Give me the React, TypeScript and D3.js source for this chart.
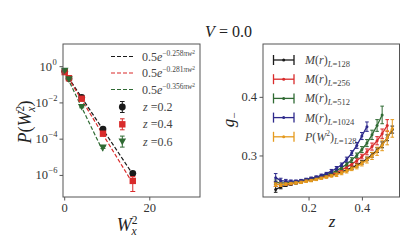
import React from "react";
import * as d3 from "d3";

// ---- left panel: P(W_x^2) ----
const w2 = [0, 1, 4, 9, 16];
const pZ02 = [0.55, 0.22, 0.02, 3.6e-4, 1.3e-6];
const pZ02Err = [0.03, 0.01, 0.002, 4e-5, 3e-7];
const pZ04 = [0.5, 0.23, 0.017, 2.0e-4, 5e-7];
const pZ04Err = [0.03, 0.01, 0.002, 3e-5, 3.7e-7];
const pZ06 = [0.6, 0.2, 6.0e-3, 3.5e-5];
const pZ06Err = [0.03, 0.01, 6e-4, 4e-6];
const zLabels = ["0.2", "0.4", "0.6"];
const fitRates = ["0.258", "0.281", "0.356"];
const fitEnds = [16, 16, 9];
const fitAmp = 0.5;

// ---- right panel: g_- vs z ----
const zGrid = [
  0.075, 0.094, 0.113, 0.132, 0.151, 0.17, 0.189, 0.208, 0.227, 0.246, 0.265, 0.284,
  0.303, 0.322, 0.341, 0.36, 0.379, 0.398, 0.417, 0.436, 0.455, 0.474, 0.493, 0.512,
];
const g128 = [
  0.243, 0.247, 0.25, 0.252, 0.254, 0.256, 0.258, 0.259, 0.261, 0.263, 0.265, 0.267,
  0.27, 0.273, 0.276, 0.28, 0.284, 0.289, 0.295, 0.302, 0.31, 0.319, 0.331, 0.345,
];
const g128Err = [
  0.005, 0.003, 0.002, 0.002, 0.002, 0.002, 0.002, 0.002, 0.002, 0.002, 0.002, 0.002,
  0.002, 0.002, 0.002, 0.003, 0.003, 0.003, 0.003, 0.004, 0.004, 0.005, 0.005, 0.006,
];
const g256 = [
  0.252, 0.251, 0.252, 0.253, 0.255, 0.256, 0.258, 0.26, 0.262, 0.264, 0.266, 0.269,
  0.272, 0.276, 0.281, 0.286, 0.292, 0.299, 0.307, 0.316, 0.326, 0.338, 0.352,
];
const g256Err = [
  0.004, 0.003, 0.002, 0.002, 0.002, 0.002, 0.002, 0.002, 0.002, 0.002, 0.002, 0.002,
  0.002, 0.003, 0.003, 0.003, 0.004, 0.004, 0.005, 0.006, 0.007, 0.008, 0.01,
];
const g512 = [
  0.255, 0.254, 0.254, 0.255, 0.256, 0.257, 0.259, 0.261, 0.263, 0.265, 0.268, 0.271,
  0.275, 0.28, 0.286, 0.293, 0.301, 0.311, 0.322, 0.336, 0.352, 0.37,
];
const g512Err = [
  0.004, 0.003, 0.002, 0.002, 0.002, 0.002, 0.002, 0.002, 0.002, 0.002, 0.002, 0.002,
  0.003, 0.003, 0.003, 0.004, 0.004, 0.005, 0.006, 0.008, 0.01, 0.015,
];
const g1024 = [
  0.263, 0.258, 0.257, 0.257, 0.257, 0.258, 0.26, 0.262, 0.264, 0.267, 0.27, 0.274,
  0.279, 0.285, 0.294, 0.305, 0.318, 0.334, 0.35,
];
const g1024Err = [
  0.007, 0.004, 0.003, 0.002, 0.002, 0.002, 0.002, 0.002, 0.002, 0.002, 0.002, 0.003,
  0.003, 0.003, 0.004, 0.004, 0.005, 0.006, 0.008,
];
const gP128 = [
  0.251, 0.251, 0.252, 0.253, 0.254, 0.255, 0.257, 0.258, 0.26, 0.262, 0.264, 0.266,
  0.268, 0.271, 0.274, 0.278, 0.282, 0.287, 0.293, 0.3, 0.308, 0.318, 0.331, 0.347,
];
const gP128Err = [
  0.003, 0.003, 0.002, 0.002, 0.002, 0.002, 0.002, 0.002, 0.002, 0.002, 0.002, 0.002,
  0.003, 0.003, 0.003, 0.003, 0.004, 0.004, 0.005, 0.006, 0.007, 0.009, 0.012, 0.015,
];
const seriesL = ["128", "256", "512", "1024", "128"];

const cBlack = "#1a1a1a";
const cRed = "#d92b2b";
const cGreen = "#2f6a33";
const cBlue = "#2e2a8c";
const cOrange = "#e59a1e";
const spine = "#555";
const font = "'Liberation Serif', 'DejaVu Serif', serif";

const App = () => {
  // scales
  const xL = d3.scaleLinear().domain([-0.4, 31.8]).range([63, 200]);
  const yL = d3.scaleLog().domain([10 ** -7.19, 10 ** 1.25]).range([197, 44]);
  const xR = d3.scaleLinear().domain([0.0275, 0.539]).range([263, 399.5]);
  const yR = d3.scaleLinear().domain([0.23, 0.491]).range([197, 44]);

  const leftSets = [
    { v: pZ02, e: pZ02Err, c: cBlack, m: "circle" },
    { v: pZ04, e: pZ04Err, c: cRed, m: "square" },
    { v: pZ06, e: pZ06Err, c: cGreen, m: "tri" },
  ];
  const fitColors = [cBlack, cRed, cGreen];

  const rightSets = [
    { v: g128, e: g128Err, c: cBlack },
    { v: g256, e: g256Err, c: cRed },
    { v: g512, e: g512Err, c: cGreen },
    { v: g1024, e: g1024Err, c: cBlue },
    { v: gP128, e: gP128Err, c: cOrange },
  ];

  const marker = (m: string, x: number, y: number, c: string, key: string) => {
    if (m === "circle") return <circle key={key} cx={x} cy={y} r={3.4} fill={c} />;
    if (m === "square")
      return <rect key={key} x={x - 3.2} y={y - 3.2} width={6.4} height={6.4} fill={c} />;
    return (
      <path key={key} d={`M${x - 3.8},${y - 3}L${x + 3.8},${y - 3}L${x},${y + 3.6}Z`} fill={c} />
    );
  };

  const fitLine = d3
    .line<number[]>()
    .x((d) => xL(d[0]))
    .y((d) => yL(d[1]));

  const rLine = d3
    .line<number[]>()
    .x((d) => xR(d[0]))
    .y((d) => yR(d[1]));

  return (
    <svg width={415} height={249} style={{ position: "absolute", left: 0, top: 0 }} fontFamily={font}>
      <rect width={415} height={249} fill="#fff" />
      {/* title */}
      <text x={228.5} y={37} fontSize={16} textAnchor="middle" fill="#222">
        <tspan fontStyle="italic">V</tspan> = 0.0
      </text>

      {/* ===== left panel ===== */}
      {fitRates.map((r, i) => {
        const k = parseFloat(r) * Math.PI;
        const pts = [
          [0, fitAmp],
          [fitEnds[i], fitAmp * Math.exp(-k * fitEnds[i])],
        ];
        return (
          <path
            key={"fit" + i}
            d={fitLine(pts) || ""}
            fill="none"
            stroke={fitColors[i]}
            strokeWidth={1.2}
            strokeDasharray="4,2"
          />
        );
      })}
      {leftSets.map((s, si) => (
        <g key={"ls" + si}>
          {s.v.map((v, i) => {
            const x = xL(w2[i]);
            const lo = Math.max(v - s.e[i], 1e-9);
            const y1 = yL(lo);
            const y2 = yL(v + s.e[i]);
            return (
              <g key={i} stroke={s.c} strokeWidth={1}>
                <line x1={x} x2={x} y1={y1} y2={y2} />
                <line x1={x - 2.5} x2={x + 2.5} y1={y1} y2={y1} />
                <line x1={x - 2.5} x2={x + 2.5} y1={y2} y2={y2} />
              </g>
            );
          })}
          {s.v.map((v, i) => marker(s.m, xL(w2[i]), yL(v), s.c, "m" + i))}
        </g>
      ))}
      {/* left legend */}
      {fitRates.map((r, i) => (
        <g key={"lf" + i}>
          <line
            x1={111}
            x2={133}
            y1={56.5 + i * 16.5}
            y2={56.5 + i * 16.5}
            stroke={fitColors[i]}
            strokeWidth={1.2}
            strokeDasharray="4,2"
          />
          <text x={142} y={60.5 + i * 16.5} fontSize={12} fill="#444">
            0.5<tspan fontStyle="italic">e</tspan>
            <tspan fontSize={7.5} dy={-5}>
              −{r}
              <tspan fontStyle="italic">πw</tspan>
              <tspan fontSize={5.5} dy={-2}>2</tspan>
            </tspan>
          </text>
        </g>
      ))}
      {leftSets.map((s, i) => {
        const y = 107 + i * 17.3;
        return (
          <g key={"lm" + i}>
            <g stroke={s.c} strokeWidth={1}>
              <line x1={122.3} x2={122.3} y1={y - 5.5} y2={y + 5.5} />
              <line x1={120} x2={124.6} y1={y - 5.5} y2={y - 5.5} />
              <line x1={120} x2={124.6} y1={y + 5.5} y2={y + 5.5} />
            </g>
            {marker(s.m, 122.3, y, s.c, "k")}
            <text x={143} y={y + 4} fontSize={12} fill="#444">
              <tspan fontStyle="italic">z</tspan> =
              {zLabels[i]}
            </text>
          </g>
        );
      })}
      {/* left axes */}
      <rect x={63} y={44} width={137} height={153} fill="none" stroke={spine} strokeWidth={1} />
      {[0, 20].map((t) => (
        <g key={"xl" + t}>
          <line x1={xL(t)} x2={xL(t)} y1={197} y2={200.5} stroke={spine} />
          <text x={xL(t)} y={212} fontSize={12.5} textAnchor="middle" fill="#333">
            {t}
          </text>
        </g>
      ))}
      {[0, -2, -4, -6].map((p) => (
        <g key={"yl" + p}>
          <line x1={59.5} x2={63} y1={yL(10 ** p)} y2={yL(10 ** p)} stroke={spine} />
          <text x={p === 0 ? 52 : 48} y={yL(10 ** p) + 4} fontSize={12.5} textAnchor="end" fill="#333">
            10
          </text>
          <text x={p === 0 ? 52.5 : 48.5} y={yL(10 ** p) - 2} fontSize={8.5} fill="#333">
            {p === 0 ? "0" : "−" + -p}
          </text>
        </g>
      ))}
      <text x={127} y={231} fontSize={18} textAnchor="middle" fill="#222" fontStyle="italic">
        W
        <tspan fontSize={11.5} dy={-7} fontStyle="normal">2</tspan>
        <tspan fontSize={11.5} dx={-6} dy={11}>x</tspan>
      </text>
      <text
        transform="translate(31,122) rotate(-90)"
        fontSize={18}
        textAnchor="middle"
        fill="#222"
      >
        <tspan fontStyle="italic">P</tspan>(<tspan fontStyle="italic">W</tspan>
        <tspan fontSize={11.5} dy={-7}>2</tspan>
        <tspan fontSize={11.5} dx={-6} dy={11} fontStyle="italic">x</tspan>
        <tspan dy={-4}>)</tspan>
      </text>

      {/* ===== right panel ===== */}
      {rightSets.map((s, si) => {
        const pts = s.v.map((v, i) => [zGrid[i], v]);
        return (
          <g key={"rs" + si}>
            <path d={rLine(pts) || ""} fill="none" stroke={s.c} strokeWidth={1.3} />
            {s.v.map((v, i) => {
              const x = xR(zGrid[i]);
              const y1 = yR(v - s.e[i]);
              const y2 = yR(v + s.e[i]);
              return (
                <g key={i} stroke={s.c} strokeWidth={1}>
                  <line x1={x} x2={x} y1={y1} y2={y2} />
                  <line x1={x - 1.8} x2={x + 1.8} y1={y1} y2={y1} />
                  <line x1={x - 1.8} x2={x + 1.8} y1={y2} y2={y2} />
                </g>
              );
            })}
            {s.v.map((v, i) => (
              <circle key={"c" + i} cx={xR(zGrid[i])} cy={yR(v)} r={1.5} fill={s.c} />
            ))}
          </g>
        );
      })}
      {/* right legend */}
      {rightSets.map((s, i) => {
        const y = 60 + i * 19.2;
        return (
          <g key={"rl" + i}>
            <g stroke={s.c} strokeWidth={1.3}>
              <line x1={273.5} x2={294} y1={y} y2={y} />
              <line x1={273.5} x2={273.5} y1={y - 5} y2={y + 5} />
              <line x1={294} x2={294} y1={y - 5} y2={y + 5} />
            </g>
            <circle cx={283.7} cy={y} r={1.5} fill={s.c} />
            <text x={305} y={y + 4} fontSize={12} fill="#444">
              {i < 4 ? (
                <>
                  <tspan fontStyle="italic">M</tspan>(<tspan fontStyle="italic">r</tspan>)
                </>
              ) : (
                <>
                  <tspan fontStyle="italic">P</tspan>(<tspan fontStyle="italic">W</tspan>
                  <tspan fontSize={7.5} dy={-5}>2</tspan>
                  <tspan dy={5}>)</tspan>
                </>
              )}
              <tspan fontSize={8.5} dy={3}>
                <tspan fontStyle="italic">L</tspan>=
                {seriesL[i]}
              </tspan>
            </text>
          </g>
        );
      })}
      {/* right axes */}
      <rect x={263} y={44} width={136.5} height={153} fill="none" stroke={spine} strokeWidth={1} />
      {[0.2, 0.4].map((t) => (
        <g key={"xr" + t}>
          <line x1={xR(t)} x2={xR(t)} y1={197} y2={200.5} stroke={spine} />
          <text x={xR(t)} y={212} fontSize={12.5} textAnchor="middle" fill="#333">
            {t.toFixed(1)}
          </text>
        </g>
      ))}
      {[0.3, 0.4].map((t) => (
        <g key={"yr" + t}>
          <line x1={259.5} x2={263} y1={yR(t)} y2={yR(t)} stroke={spine} />
          <text x={257} y={yR(t) + 4} fontSize={12.5} textAnchor="end" fill="#333">
            {t.toFixed(1)}
          </text>
        </g>
      ))}
      <text x={332} y={227} fontSize={17} textAnchor="middle" fill="#222" fontStyle="italic">
        z
      </text>
      <text transform="translate(234,120) rotate(-90)" fontSize={17} textAnchor="middle" fill="#222">
        <tspan fontStyle="italic">g</tspan>
        <tspan fontSize={11} dy={4}>−</tspan>
      </text>
    </svg>
  );
};

export default App;
